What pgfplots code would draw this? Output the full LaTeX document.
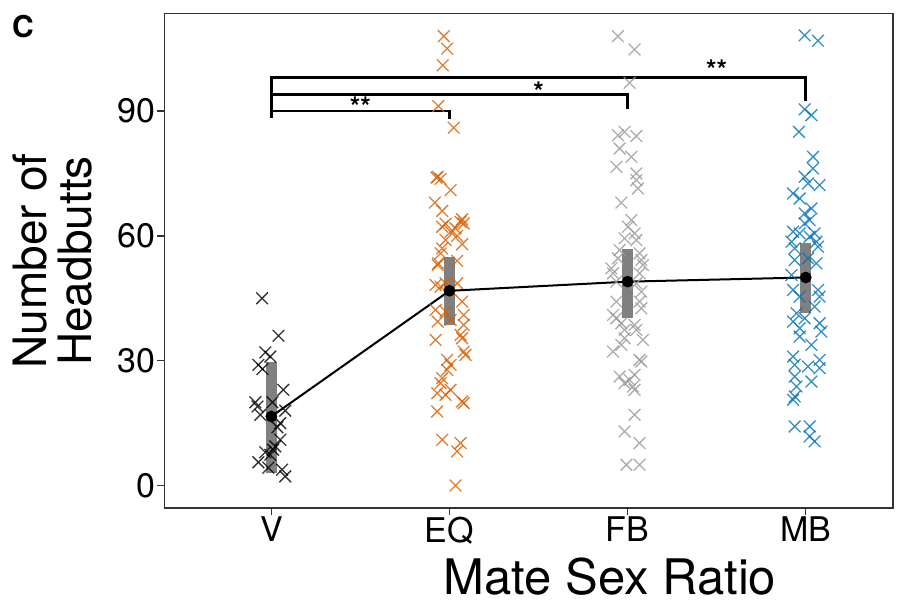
\documentclass[border=0pt]{standalone}
\usepackage{pgfplots}
\pgfplotsset{compat=1.18}
\usepackage{fontspec}
\setmainfont{TeX Gyre Heros}
\definecolor{cEQ}{HTML}{D55E00}
\definecolor{cFB}{HTML}{999999}
\definecolor{cMB}{HTML}{0072B2}
\definecolor{axisgray}{RGB}{51,51,51}
\definecolor{barGray}{RGB}{128,128,128}
\begin{document}
\begin{tikzpicture}[x=1pt,y=1pt]
\path[use as bounding box] (0,0) rectangle (906,603);
\begin{axis}[
 at={(164.5pt,95pt)}, anchor=south west,
 width=728.5pt, height=494.3pt, scale only axis,
 xmin=0.4, xmax=4.49, ymin=-5.4, ymax=113.4,
 xtick={1,2,3,4}, xticklabels={V,EQ,FB,MB},
 ytick={0,30,60,90},
 tick pos=left,
 tick align=outside, major tick length=7pt,
 tick style={axisgray, line width=1.3pt},
 axis line style={axisgray, line width=1.3pt},
 every tick label/.append style={font=\fontsize{34}{34}\selectfont, text=black},
 yticklabel style={inner sep=2pt},
 xticklabel style={inner sep=2pt},
 /pgf/number format/assume math mode=true,
 clip=false,
]
% CI bars
\addplot[forget plot, line width=11pt, color=barGray] coordinates {(1,3.1) (1,29.6)};
\addplot[forget plot, line width=11pt, color=barGray] coordinates {(2,38.6) (2,55)};
\addplot[forget plot, line width=11pt, color=barGray] coordinates {(3,40.2) (3,56.8)};
\addplot[forget plot, line width=11pt, color=barGray] coordinates {(4,41.5) (4,58.2)};
% points
\addplot[only marks, mark=x, mark size=8.3pt, mark options={line width=1.3pt}, color=black, opacity=0.8] coordinates {
(0.948,45) (1.04,36) (0.966,32) (0.994,31) (0.927,29) (0.95,28) (1.067,23) (0.91,20) (0.922,19) (1.006,20) (0.938,17) (1.078,18) (1.05,15) (1.034,14) (1.05,11) (0.966,8) (1.01,8.6) (1.022,9.4) (0.994,7.4) (0.927,5.6) (0.983,4.3) (1.06,3.8) (1.078,2.2)};
\addplot[only marks, mark=x, mark size=8.3pt, mark options={line width=1.3pt}, color=cEQ, opacity=0.8] coordinates {
(1.968,108) (1.987,105) (1.962,101) (1.937,91.2) (2.024,86) (1.934,74.2) (1.95,73.7) (1.927,74) (2.006,71) (1.918,68) (1.959,66) (2.071,64) (2.062,63.4) (2.08,63) (1.978,62.9) (1.959,62.2) (2.034,61.8) (2.006,61) (2.043,60) (1.978,59) (2.071,58) (1.959,57) (1.95,55.8) (1.937,53.4) (2.043,54) (1.934,53) (1.922,48.2) (1.95,47.8) (1.978,48.6) (2.006,47) (2.043,48.6) (2.071,44.2) (1.922,42.2) (1.978,41.8) (2.08,41) (1.934,39.4) (2.006,39.8) (2.08,38.6) (2.062,36.2) (2.071,35.4) (1.922,35) (2.08,32.2) (2.09,31.4) (1.987,30.2) (2.006,29) (1.987,27.8) (1.959,25.8) (1.95,24.6) (2.006,23) (1.931,22.2) (1.978,21.8) (2.071,20.2) (2.08,19.8) (1.931,17.8) (1.959,11) (2.062,10.2) (2.043,8.2) (2.034,0)};
\addplot[only marks, mark=x, mark size=8.3pt, mark options={line width=1.3pt}, color=cFB, opacity=0.8] coordinates {
(2.946,108) (3.039,104.8) (3.011,96.8) (2.946,84.2) (2.983,85) (3.049,84) (2.955,81) (3.021,79) (2.937,76.6) (3.049,75) (3.049,73.4) (3.058,71.4) (2.965,68) (3.021,63.8) (3.002,62.2) (3.039,60.6) (3.049,59) (2.983,59.4) (2.955,56.6) (3.067,55.8) (2.946,54.6) (3.077,54.2) (2.909,52.2) (3.086,53) (2.918,51) (3.067,51) (2.937,49) (3.049,48.6) (3.077,46.6) (2.937,44.2) (3.067,44.2) (3.077,42.6) (2.918,41) (2.937,40.2) (2.965,39) (3.039,38.6) (2.983,37.4) (3.049,37.4) (2.983,35.4) (3.086,35) (2.965,33.8) (2.918,32.2) (3.067,30.2) (3.077,29.8) (2.955,26.2) (3.039,26.6) (3.011,25.4) (2.983,24.6) (3.03,23.8) (3.039,23) (3.039,17) (2.983,13) (3.067,10.2) (2.993,5) (3.067,5)};
\addplot[only marks, mark=x, mark size=8.3pt, mark options={line width=1.3pt}, color=cMB, opacity=0.8] coordinates {
(3.994,108.2) (4.069,106.9) (3.994,90.4) (4.032,89) (3.962,85) (4.041,79) (4.041,76.2) (3.994,74.2) (4.013,72.6) (4.078,72.2) (3.929,70.2) (3.966,69) (4.032,66.6) (3.994,65.4) (4.022,63.8) (3.994,63) (3.929,61) (3.966,60.6) (4.05,60.6) (4.022,59.8) (3.92,58.6) (4.06,58.6) (3.938,57) (4.069,57.4) (3.938,54.2) (4.013,54.6) (4.06,53.4) (3.92,50.6) (3.929,47) (4.069,47) (3.966,45.4) (4.078,45.4) (4.05,43) (3.948,41.4) (3.994,40.2) (3.929,39.4) (4.078,39) (3.966,37.8) (4.088,37) (3.966,35.8) (4.032,33.8) (3.929,31) (4.078,30.2) (3.938,29) (4.013,28.6) (4.078,28.2) (3.938,26.2) (4.032,25) (3.948,23.8) (3.938,21.4) (3.929,20.6) (3.938,14.2) (4.022,14.2) (4.022,11.8) (4.05,10.6)};
% means
\addplot[black, line width=2pt, mark=*, mark size=4.8pt] coordinates {(1,16.6) (2,46.8) (3,49) (4,50)};
% brackets
\addplot[black, line width=2.7pt] coordinates {(1,88.3) (1,90) (2,90) (2,88.1)};
\addplot[black, line width=2.7pt] coordinates {(1,88.3) (1,94) (3,94) (3,90.5)};
\addplot[black, line width=2.7pt] coordinates {(1,88.3) (1,98) (4,98) (4,92.3)};
\node[anchor=base, font=\bfseries\fontsize{27}{27}\selectfont] at (axis cs:1.5,88.6) {**};
\node[anchor=base, font=\bfseries\fontsize{27}{27}\selectfont] at (axis cs:2.5,92.4) {*};
\node[anchor=base, font=\bfseries\fontsize{27}{27}\selectfont] at (axis cs:3.5,97.5) {**};
\end{axis}
\node[rotate=90, align=center, inner sep=0pt, font=\fontsize{46}{45}\selectfont] at (53,342) {Number of\\Headbutts};
\node[anchor=base, inner sep=0pt, font=\fontsize{49}{49}\selectfont] at (610,8) {Mate Sex Ratio};
\node[anchor=base west, inner sep=0pt, font=\bfseries\fontsize{30}{30}\selectfont] at (12,565) {C};
\end{tikzpicture}
\end{document}
